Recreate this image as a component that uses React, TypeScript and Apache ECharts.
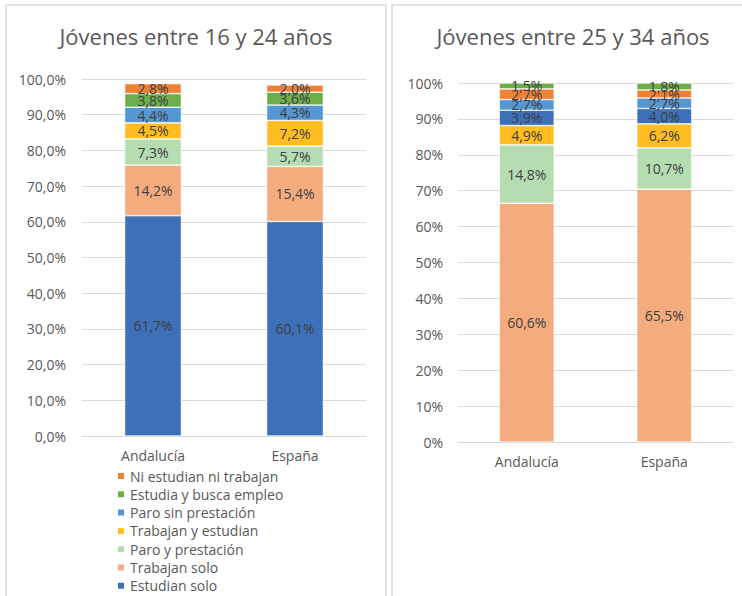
import React, { useEffect, useRef } from "react";
import * as echarts from "echarts";

const categories = ["Andalucía", "España"];

// Left chart: jóvenes 16-24 (stack order bottom → top)
const leftSeriesNames = [
  "Estudian solo",
  "Trabajan solo",
  "Paro y prestación",
  "Trabajan y estudian",
  "Paro sin prestación",
  "Estudia y busca empleo",
  "Ni estudian ni trabajan",
];
const leftValues = [
  [61.7, 60.1],
  [14.2, 15.4],
  [7.3, 5.7],
  [4.5, 7.2],
  [4.4, 4.3],
  [3.8, 3.6],
  [2.8, 2.0],
];

// Right chart: jóvenes 25-34 (100% stacked, bottom → top)
const rightSeriesNames = [
  "Trabajan solo",
  "Paro y prestación",
  "Trabajan y estudian",
  "Estudian solo",
  "Paro sin prestación",
  "Ni estudian ni trabajan",
  "Estudia y busca empleo",
];
const rightValues = [
  [60.6, 65.5],
  [14.8, 10.7],
  [4.9, 6.2],
  [3.9, 4.0],
  [2.7, 2.7],
  [2.7, 2.1],
  [1.5, 1.8],
];

const legendOrder = [
  "Ni estudian ni trabajan",
  "Estudia y busca empleo",
  "Paro sin prestación",
  "Trabajan y estudian",
  "Paro y prestación",
  "Trabajan solo",
  "Estudian solo",
];

const colors: Record<string, string> = {
  "Estudian solo": "#3E70B9",
  "Trabajan solo": "#F4AC7E",
  "Paro y prestación": "#B6DCB2",
  "Trabajan y estudian": "#FFBD21",
  "Paro sin prestación": "#5597D3",
  "Estudia y busca empleo": "#6DAE4C",
  "Ni estudian ni trabajan": "#EF8136",
};

const FONT = "'Open Sans', 'Noto Sans', sans-serif";
const GRAY = "#595959";
const LABEL = "#404040";
const GRID_LINE = "#d9d9d9";

const fmt1 = (v: number) => v.toFixed(1).replace(".", ",") + "%";

export default function App() {
  const ref = useRef<HTMLDivElement>(null);
  useEffect(() => {
    if (!ref.current) return;
    const chart = echarts.init(ref.current, null, { renderer: "svg" });

    const rightTotals = categories.map((_, ci) =>
      rightValues.reduce((s, arr) => s + arr[ci], 0)
    );

    const labelStyle = {
      show: true,
      position: "inside" as const,
      color: LABEL,
      fontFamily: FONT,
      fontSize: 14,
    };

    const leftSeries = leftSeriesNames.map((name, si) => ({
      name,
      type: "bar",
      stack: "left",
      xAxisIndex: 0,
      yAxisIndex: 0,
      barWidth: "40%",
      itemStyle: { color: colors[name], borderColor: "#ffffff", borderWidth: 0.6 },
      label: { ...labelStyle, formatter: (p: any) => fmt1(leftValues[si][p.dataIndex]) },
      data: leftValues[si],
    }));

    const rightSeries = rightSeriesNames.map((name, si) => ({
      name,
      type: "bar",
      stack: "right",
      xAxisIndex: 1,
      yAxisIndex: 1,
      barWidth: "40%",
      itemStyle: { color: colors[name], borderColor: "#ffffff", borderWidth: 0.6 },
      label: { ...labelStyle, formatter: (p: any) => fmt1(rightValues[si][p.dataIndex]) },
      data: rightValues[si].map((v, ci) => (v / rightTotals[ci]) * 100),
    }));

    const xAxisCommon = {
      type: "category" as const,
      data: categories,
      axisTick: { show: false },
      axisLine: { show: true, lineStyle: { color: GRID_LINE, width: 1 } },
      axisLabel: { color: GRAY, fontFamily: FONT, fontSize: 14, margin: 12 },
    };
    const yAxisCommon = {
      type: "value" as const,
      min: 0,
      max: 100,
      interval: 10,
      axisLine: { show: false },
      axisTick: { show: false },
      splitLine: { lineStyle: { color: GRID_LINE, width: 1 } },
    };

    chart.setOption({
      animation: false,
      backgroundColor: "#ffffff",
      grid: [
        { left: 82, right: 376, top: 79, bottom: 160 },
        { left: 458, right: 9, top: 83, bottom: 154 },
      ],
      xAxis: [
        { ...xAxisCommon, gridIndex: 0 },
        { ...xAxisCommon, gridIndex: 1 },
      ],
      yAxis: [
        {
          ...yAxisCommon,
          gridIndex: 0,
          axisLabel: {
            color: GRAY,
            fontFamily: FONT,
            fontSize: 14,
            margin: 16,
            formatter: (v: number) => fmt1(v),
          },
        },
        {
          ...yAxisCommon,
          gridIndex: 1,
          axisLabel: {
            color: GRAY,
            fontFamily: FONT,
            fontSize: 14,
            margin: 15,
            formatter: (v: number) => v.toFixed(0) + "%",
          },
        },
      ],
      legend: {
        orient: "vertical",
        left: 116,
        top: 469,
        padding: 0,
        data: legendOrder,
        icon: "rect",
        itemWidth: 8,
        itemHeight: 8,
        itemGap: 4.3,
        selectedMode: false,
        textStyle: { color: GRAY, fontFamily: FONT, fontSize: 14, lineHeight: 14 },
      },
      graphic: [
        {
          type: "rect",
          shape: { x: 6, y: 5, width: 380, height: 600 },
          style: { fill: "none", stroke: GRID_LINE, lineWidth: 1.5 },
          silent: true,
        },
        {
          type: "rect",
          shape: { x: 392, y: 5, width: 360, height: 600 },
          style: { fill: "none", stroke: GRID_LINE, lineWidth: 1.5 },
          silent: true,
        },
        {
          type: "text",
          x: 196,
          y: 36,
          style: {
            text: "Jóvenes entre 16 y 24 años",
            fill: GRAY,
            font: `22px ${FONT}`,
            textAlign: "center",
            textVerticalAlign: "middle",
          },
        },
        {
          type: "text",
          x: 573,
          y: 36,
          style: {
            text: "Jóvenes entre 25 y 34 años",
            fill: GRAY,
            font: `22px ${FONT}`,
            textAlign: "center",
            textVerticalAlign: "middle",
          },
        },
      ],
      series: [...leftSeries, ...rightSeries],
    });

    return () => chart.dispose();
  }, []);

  return (
    <div
      ref={ref}
      style={{ position: "fixed", left: 0, top: 0, width: 742, height: 596 }}
    />
  );
}
